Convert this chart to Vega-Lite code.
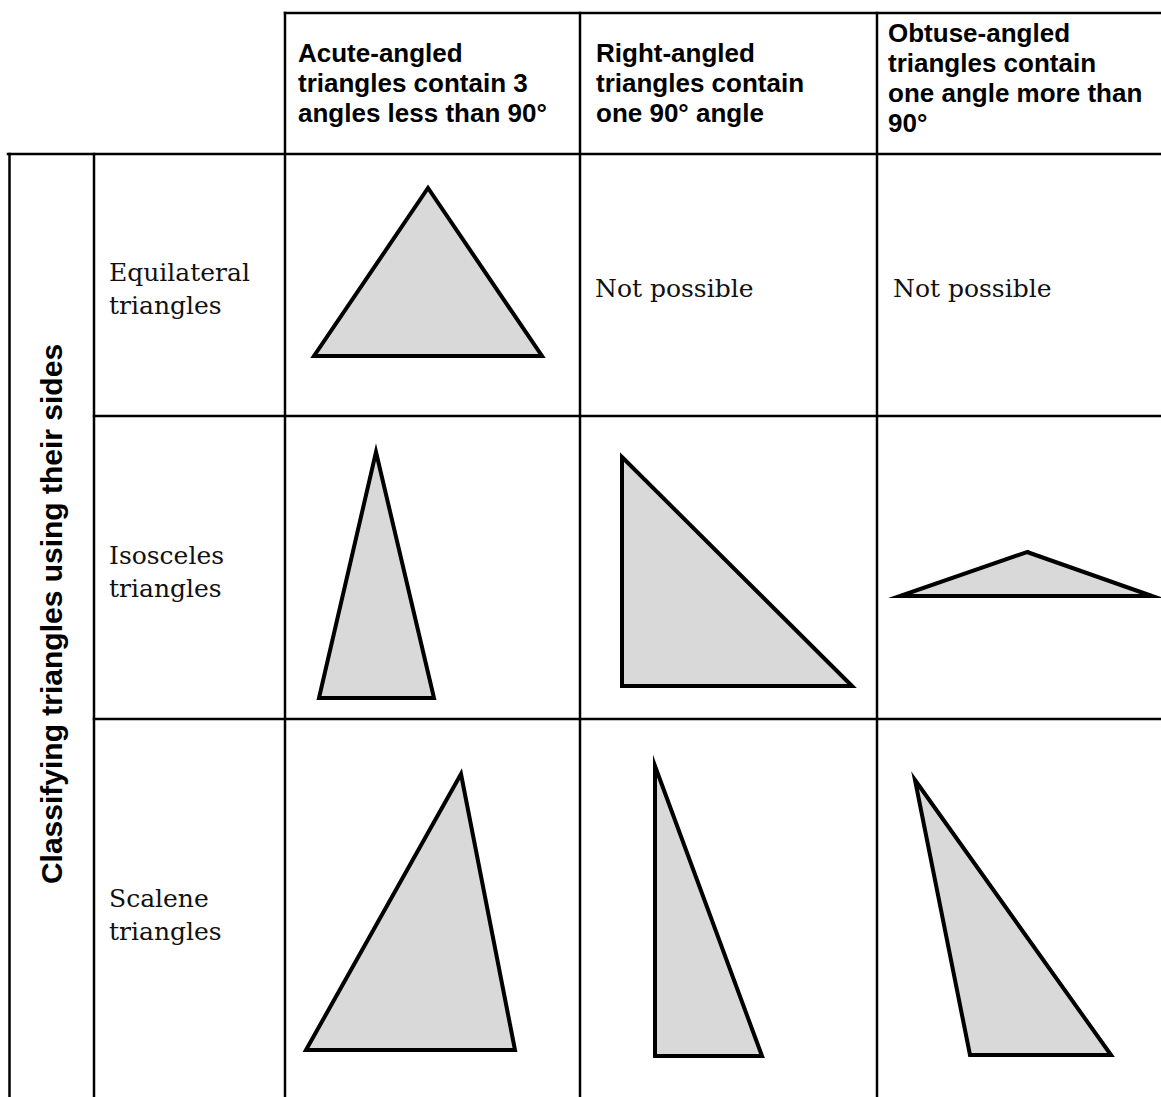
{
  "$schema": "https://vega.github.io/schema/vega-lite/v6.json",
  "width": 1161,
  "height": 1097,
  "padding": 0,
  "autosize": "none",
  "background": "white",
  "config": {"view": {"stroke": null}},
  "datasets": {
    "grid": [
      {"x1": 285, "y1": 13, "x2": 1161, "y2": 13},
      {"x1": 8, "y1": 154, "x2": 1161, "y2": 154},
      {"x1": 94, "y1": 416, "x2": 1161, "y2": 416},
      {"x1": 94, "y1": 719, "x2": 1161, "y2": 719},
      {"x1": 9.5, "y1": 154, "x2": 9.5, "y2": 1097},
      {"x1": 94, "y1": 154, "x2": 94, "y2": 1097},
      {"x1": 285, "y1": 13, "x2": 285, "y2": 1097},
      {"x1": 580, "y1": 13, "x2": 580, "y2": 1097},
      {"x1": 877, "y1": 13, "x2": 877, "y2": 1097}
    ],
    "tri": [
      {"id": "equi_acute", "ord": 1, "x": 428, "y": 188},
      {"id": "equi_acute", "ord": 2, "x": 542, "y": 356},
      {"id": "equi_acute", "ord": 3, "x": 314, "y": 356},
      {"id": "equi_acute", "ord": 4, "x": 428, "y": 188},
      {"id": "equi_acute", "ord": 5, "x": 542, "y": 356},
      {"id": "iso_acute", "ord": 1, "x": 376, "y": 452},
      {"id": "iso_acute", "ord": 2, "x": 434, "y": 698},
      {"id": "iso_acute", "ord": 3, "x": 319, "y": 698},
      {"id": "iso_acute", "ord": 4, "x": 376, "y": 452},
      {"id": "iso_acute", "ord": 5, "x": 434, "y": 698},
      {"id": "iso_right", "ord": 1, "x": 622, "y": 457},
      {"id": "iso_right", "ord": 2, "x": 852, "y": 686},
      {"id": "iso_right", "ord": 3, "x": 622, "y": 686},
      {"id": "iso_right", "ord": 4, "x": 622, "y": 457},
      {"id": "iso_right", "ord": 5, "x": 852, "y": 686},
      {"id": "iso_obtuse", "ord": 1, "x": 1027, "y": 552},
      {"id": "iso_obtuse", "ord": 2, "x": 1152, "y": 596},
      {"id": "iso_obtuse", "ord": 3, "x": 900, "y": 596},
      {"id": "iso_obtuse", "ord": 4, "x": 1027, "y": 552},
      {"id": "iso_obtuse", "ord": 5, "x": 1152, "y": 596},
      {"id": "sca_acute", "ord": 1, "x": 461, "y": 774},
      {"id": "sca_acute", "ord": 2, "x": 515, "y": 1050},
      {"id": "sca_acute", "ord": 3, "x": 306, "y": 1050},
      {"id": "sca_acute", "ord": 4, "x": 461, "y": 774},
      {"id": "sca_acute", "ord": 5, "x": 515, "y": 1050},
      {"id": "sca_right", "ord": 1, "x": 655, "y": 766},
      {"id": "sca_right", "ord": 2, "x": 762, "y": 1056},
      {"id": "sca_right", "ord": 3, "x": 655, "y": 1056},
      {"id": "sca_right", "ord": 4, "x": 655, "y": 766},
      {"id": "sca_right", "ord": 5, "x": 762, "y": 1056},
      {"id": "sca_obtuse", "ord": 1, "x": 915, "y": 780},
      {"id": "sca_obtuse", "ord": 2, "x": 1111, "y": 1055},
      {"id": "sca_obtuse", "ord": 3, "x": 970, "y": 1055},
      {"id": "sca_obtuse", "ord": 4, "x": 915, "y": 780},
      {"id": "sca_obtuse", "ord": 5, "x": 1111, "y": 1055}
    ],
    "headers": [
      {"text": "Acute-angled\ntriangles contain 3\nangles less than 90°", "x": 298, "y": 62},
      {"text": "Right-angled\ntriangles contain\none 90° angle", "x": 596, "y": 62},
      {"text": "Obtuse-angled\ntriangles contain\none angle more than\n90°", "x": 888, "y": 42}
    ],
    "cells": [
      {"text": "Equilateral\ntriangles", "x": 109, "y": 281},
      {"text": "Isosceles\ntriangles", "x": 109, "y": 564},
      {"text": "Scalene\ntriangles", "x": 109, "y": 907},
      {"text": "Not possible", "x": 595, "y": 297},
      {"text": "Not possible", "x": 893, "y": 297}
    ],
    "side": [
      {"text": "Classifying triangles using their sides", "x": 62, "y": 614}
    ]
  },
  "layer": [
    {
      "data": {"name": "grid"},
      "mark": {"type": "rule", "color": "black", "strokeWidth": 2.5, "strokeCap": "square"},
      "encoding": {
        "x": {"field": "x1", "type": "quantitative", "scale": {"domain": [0, 1161], "nice": false, "zero": false}, "axis": null},
        "x2": {"field": "x2"},
        "y": {"field": "y1", "type": "quantitative", "scale": {"domain": [0, 1097], "nice": false, "zero": false, "reverse": true}, "axis": null},
        "y2": {"field": "y2"}
      }
    },
    {
      "data": {"name": "tri"},
      "mark": {"type": "line", "fill": "#d9d9d9", "stroke": "black", "strokeWidth": 4, "strokeJoin": "miter", "strokeMiterLimit": 12},
      "encoding": {
        "x": {"field": "x", "type": "quantitative", "scale": {"domain": [0, 1161], "nice": false, "zero": false}, "axis": null},
        "y": {"field": "y", "type": "quantitative", "scale": {"domain": [0, 1097], "nice": false, "zero": false, "reverse": true}, "axis": null},
        "detail": {"field": "id", "type": "nominal"},
        "order": {"field": "ord", "type": "quantitative"}
      }
    },
    {
      "data": {"name": "headers"},
      "mark": {"type": "text", "font": "Liberation Sans", "fontWeight": "bold", "fontSize": 26, "lineBreak": "\n", "lineHeight": 30, "align": "left", "baseline": "alphabetic", "color": "black"},
      "encoding": {
        "x": {"field": "x", "type": "quantitative", "scale": {"domain": [0, 1161], "nice": false, "zero": false}, "axis": null},
        "y": {"field": "y", "type": "quantitative", "scale": {"domain": [0, 1097], "nice": false, "zero": false, "reverse": true}, "axis": null},
        "text": {"field": "text"}
      }
    },
    {
      "data": {"name": "cells"},
      "mark": {"type": "text", "font": "DejaVu Serif", "fontSize": 25, "lineBreak": "\n", "lineHeight": 33, "align": "left", "baseline": "alphabetic", "color": "#111111"},
      "encoding": {
        "x": {"field": "x", "type": "quantitative", "scale": {"domain": [0, 1161], "nice": false, "zero": false}, "axis": null},
        "y": {"field": "y", "type": "quantitative", "scale": {"domain": [0, 1097], "nice": false, "zero": false, "reverse": true}, "axis": null},
        "text": {"field": "text"}
      }
    },
    {
      "data": {"name": "side"},
      "mark": {"type": "text", "font": "Liberation Sans", "fontWeight": "bold", "fontSize": 30, "angle": 270, "align": "center", "baseline": "alphabetic", "color": "black"},
      "encoding": {
        "x": {"field": "x", "type": "quantitative", "scale": {"domain": [0, 1161], "nice": false, "zero": false}, "axis": null},
        "y": {"field": "y", "type": "quantitative", "scale": {"domain": [0, 1097], "nice": false, "zero": false, "reverse": true}, "axis": null},
        "text": {"field": "text"}
      }
    }
  ]
}
